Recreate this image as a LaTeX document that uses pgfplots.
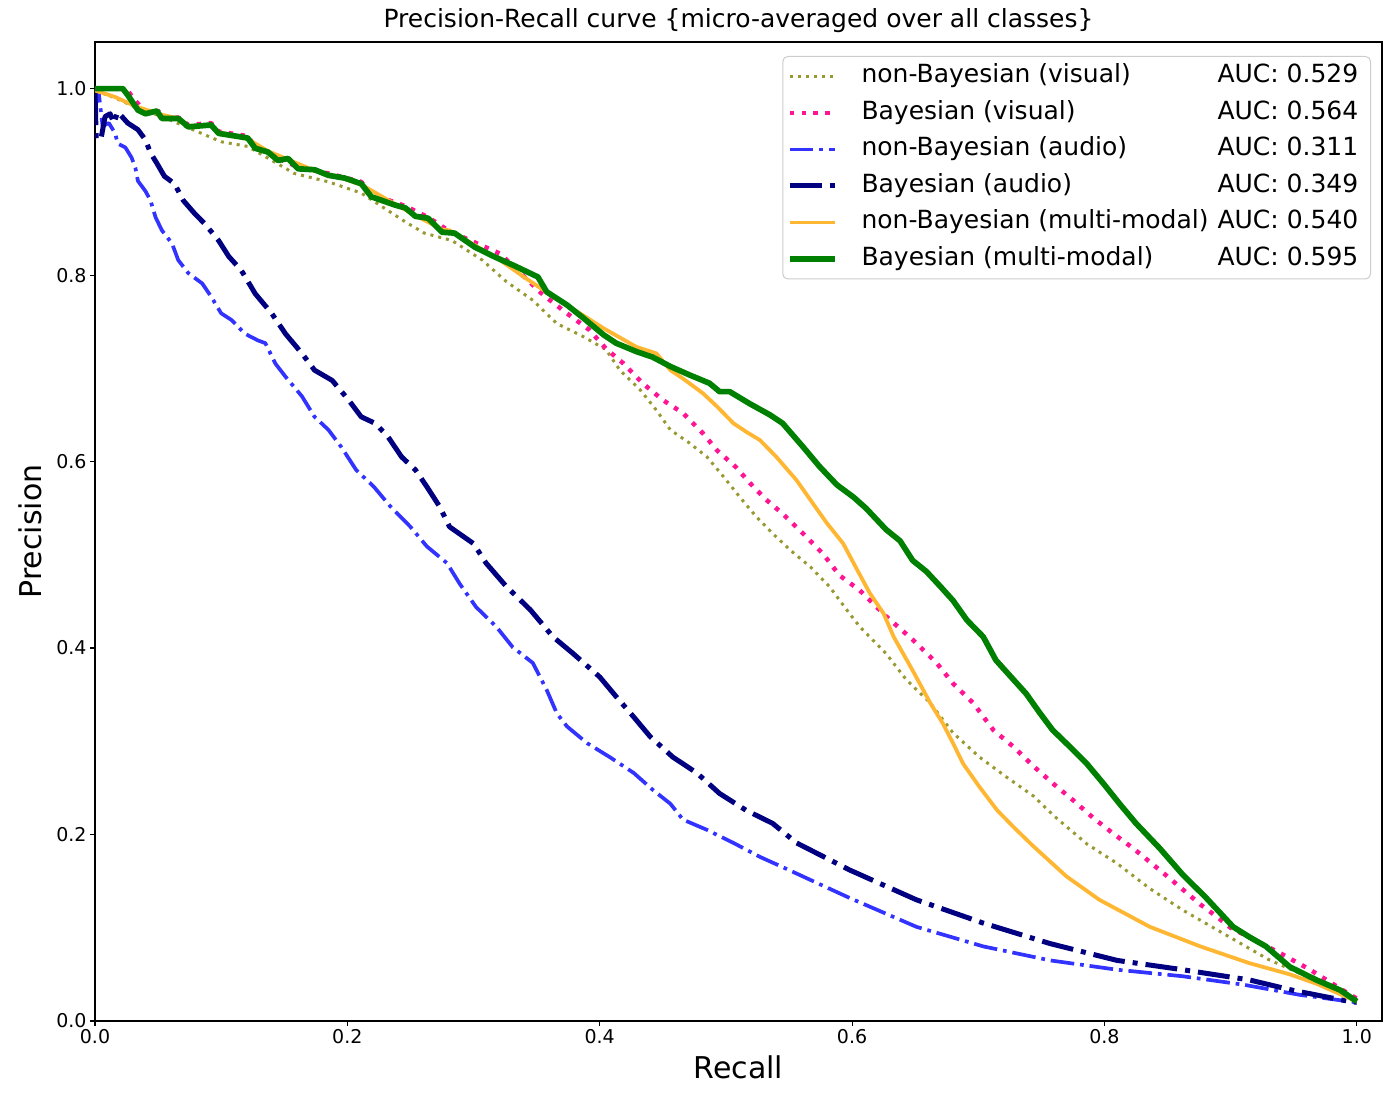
\documentclass[border=0pt]{standalone}
\usepackage{fontspec}
\setmainfont{DejaVu Sans}
\usepackage{pgfplots}
\pgfplotsset{compat=1.18}
\definecolor{cOlive}{RGB}{153,153,51}
\definecolor{cPink}{RGB}{255,20,147}
\definecolor{cBlue}{RGB}{51,51,255}
\definecolor{cNavy}{RGB}{0,0,128}
\definecolor{cOrange}{RGB}{255,183,51}
\definecolor{cGreen}{RGB}{0,128,0}
\begin{document}
\begin{tikzpicture}
\begin{axis}[
  scale only axis, width=1287bp, height=979bp,
  xmin=0, xmax=1.02, ymin=0, ymax=1.05,
  xtick={0,0.2,0.4,0.6,0.8,1}, ytick={0,0.2,0.4,0.6,0.8,1},
  xtick pos=bottom, ytick pos=left, tick align=outside,
  major tick length=5bp,
  every tick/.style={black, line width=1.1bp},
  axis line style={line width=1.1bp},
  /pgf/number format/.cd, fixed, fixed zerofill, precision=1, assume math mode=true, /pgfplots/.cd,
  ticklabel style={font=\fontsize{19bp}{22bp}\selectfont},
  title={Precision-Recall curve \{micro-averaged over all classes\}},
  title style={at={(axis description cs:0.5,1.0085)}, anchor=base, font=\fontsize{25bp}{30bp}\selectfont},
  xlabel={Recall}, ylabel={Precision},
  xlabel style={at={(axis description cs:0.5,-0.0592)}, anchor=base, font=\fontsize{30bp}{36bp}\selectfont},
  ylabel style={at={(axis description cs:-0.0412,0.5)}, anchor=base, rotate=0, font=\fontsize{30bp}{36bp}\selectfont},
  legend cell align=left,
  legend style={at={(axis description cs:1,1)}, anchor=north east, xshift=-11bp, yshift=-14bp,
    draw=black!20, rounded corners=5bp, fill=white, fill opacity=0.8, text opacity=1, line width=1bp,
    font=\fontsize{25bp}{30bp}\selectfont, inner xsep=4bp, inner ysep=8bp, row sep=12.5bp,
    nodes={inner sep=0pt, text height=18.5bp, text depth=5.5bp}},
  legend image code/.code={\draw[mark repeat=2,mark phase=2] plot coordinates {(0bp,0bp) (22.5bp,0bp) (45bp,0bp)}; \path (69bp,0bp);},
  every axis plot/.append style={line join=round},
]
% non-Bayesian (visual)
\addplot[cOlive, line width=3bp, dash pattern=on 3bp off 5bp] coordinates {
(0,0.998)(0.016,0.990)(0.032,0.980)(0.053,0.970)(0.074,0.958)(0.100,0.943)(0.121,0.938)(0.158,0.909)(0.185,0.900)(0.211,0.888)(0.246,0.857)(0.261,0.845)(0.283,0.837)(0.307,0.816)(0.326,0.793)(0.347,0.773)(0.366,0.748)(0.387,0.734)(0.405,0.720)(0.416,0.698)(0.432,0.677)(0.445,0.655)(0.456,0.634)(0.471,0.620)(0.485,0.605)(0.498,0.584)(0.511,0.562)(0.524,0.541)(0.537,0.523)(0.551,0.505)(0.567,0.487)(0.582,0.466)(0.598,0.437)(0.606,0.423)(0.627,0.394)(0.643,0.366)(0.662,0.341)(0.680,0.309)(0.701,0.283)(0.722,0.262)(0.744,0.241)(0.760,0.220)(0.786,0.190)(0.810,0.169)(0.836,0.142)(0.862,0.119)(0.889,0.098)(0.912,0.080)(0.930,0.066)(0.955,0.051)(0.987,0.033)(1.0,0.021)
};
\addlegendentry{\makebox[356bp][l]{non-Bayesian (visual)}\makebox[149bp][l]{AUC: 0.529}}
% Bayesian (visual)
\addplot[cPink, line width=4.5bp, dash pattern=on 4.5bp off 7.4bp] coordinates {
(0,1.0)(0.025,1.0)(0.030,0.990)(0.040,0.975)(0.050,0.976)(0.055,0.968)(0.066,0.969)(0.074,0.961)(0.092,0.963)(0.098,0.954)(0.121,0.949)(0.127,0.938)(0.145,0.925)(0.161,0.916)(0.185,0.909)(0.211,0.900)(0.219,0.887)(0.246,0.874)(0.264,0.862)(0.281,0.847)(0.321,0.823)(0.355,0.779)(0.374,0.759)(0.392,0.741)(0.405,0.721)(0.419,0.705)(0.434,0.684)(0.450,0.666)(0.466,0.652)(0.482,0.630)(0.493,0.612)(0.508,0.594)(0.519,0.577)(0.532,0.559)(0.545,0.544)(0.561,0.523)(0.577,0.501)(0.590,0.478)(0.606,0.462)(0.627,0.434)(0.648,0.409)(0.667,0.384)(0.680,0.362)(0.696,0.341)(0.712,0.312)(0.728,0.294)(0.744,0.273)(0.759,0.255)(0.775,0.237)(0.791,0.218)(0.807,0.201)(0.823,0.185)(0.850,0.155)(0.876,0.125)(0.889,0.112)(0.900,0.100)(0.939,0.073)(0.963,0.055)(0.989,0.033)(1.0,0.024)
};
\addlegendentry{\makebox[356bp][l]{Bayesian (visual)}\makebox[149bp][l]{AUC: 0.564}}
% non-Bayesian (audio)
\addplot[cBlue, line width=3.7bp, dash pattern=on 23.7bp off 5.9bp on 3.7bp off 5.9bp] coordinates {
(0,0.980)(0.003,0.995)(0.006,0.960)(0.011,0.963)(0.016,0.952)(0.018,0.941)(0.024,0.937)(0.029,0.926)(0.032,0.915)(0.034,0.901)(0.040,0.890)(0.044,0.880)(0.048,0.862)(0.053,0.848)(0.061,0.834)(0.066,0.816)(0.074,0.802)(0.085,0.791)(0.092,0.777)(0.100,0.759)(0.108,0.752)(0.119,0.737)(0.129,0.730)(0.135,0.727)(0.143,0.705)(0.151,0.691)(0.164,0.670)(0.174,0.648)(0.185,0.634)(0.195,0.616)(0.207,0.591)(0.221,0.573)(0.234,0.552)(0.250,0.530)(0.263,0.509)(0.279,0.491)(0.289,0.469)(0.302,0.444)(0.318,0.423)(0.331,0.401)(0.347,0.384)(0.358,0.355)(0.366,0.330)(0.374,0.316)(0.390,0.298)(0.408,0.283)(0.427,0.266)(0.442,0.248)(0.456,0.233)(0.466,0.216)(0.485,0.205)(0.506,0.191)(0.527,0.176)(0.545,0.165)(0.598,0.132)(0.651,0.101)(0.704,0.080)(0.757,0.065)(0.810,0.055)(0.862,0.048)(0.910,0.039)(0.955,0.028)(0.994,0.021)(1.0,0.020)
};
\addlegendentry{\makebox[356bp][l]{non-Bayesian (audio)}\makebox[149bp][l]{AUC: 0.311}}
% Bayesian (audio)
\addplot[cNavy, line width=5bp, dash pattern=on 32bp off 8bp on 5bp off 8bp] coordinates {
(0,0.995)(0.001,0.945)(0.005,0.948)(0.008,0.970)(0.012,0.973)(0.015,0.963)(0.018,0.975)(0.026,0.963)(0.034,0.956)(0.040,0.945)(0.044,0.931)(0.049,0.920)(0.055,0.906)(0.063,0.898)(0.070,0.880)(0.079,0.866)(0.087,0.855)(0.098,0.837)(0.106,0.820)(0.116,0.805)(0.127,0.780)(0.140,0.759)(0.151,0.737)(0.164,0.716)(0.174,0.698)(0.188,0.687)(0.201,0.666)(0.211,0.648)(0.222,0.641)(0.232,0.627)(0.243,0.605)(0.254,0.591)(0.263,0.573)(0.273,0.552)(0.281,0.530)(0.300,0.512)(0.310,0.491)(0.326,0.466)(0.345,0.441)(0.363,0.412)(0.379,0.394)(0.400,0.369)(0.413,0.348)(0.427,0.326)(0.440,0.305)(0.458,0.283)(0.477,0.266)(0.495,0.244)(0.516,0.226)(0.537,0.212)(0.556,0.191)(0.598,0.162)(0.651,0.130)(0.704,0.105)(0.757,0.083)(0.810,0.065)(0.862,0.055)(0.915,0.044)(0.949,0.033)(0.994,0.021)(1.0,0.020)
};
\addlegendentry{\makebox[356bp][l]{Bayesian (audio)}\makebox[149bp][l]{AUC: 0.349}}
% non-Bayesian (multi-modal)
\addplot[cOrange, line width=3.8bp] coordinates {
(0,0.998)(0.016,0.991)(0.032,0.981)(0.053,0.972)(0.066,0.968)(0.074,0.960)(0.092,0.960)(0.098,0.953)(0.121,0.946)(0.137,0.933)(0.153,0.924)(0.174,0.912)(0.198,0.903)(0.211,0.897)(0.238,0.876)(0.254,0.864)(0.275,0.849)(0.281,0.848)(0.321,0.816)(0.342,0.796)(0.361,0.779)(0.382,0.761)(0.403,0.743)(0.429,0.723)(0.445,0.716)(0.456,0.698)(0.466,0.689)(0.482,0.673)(0.493,0.659)(0.506,0.641)(0.516,0.632)(0.527,0.623)(0.540,0.605)(0.556,0.580)(0.569,0.555)(0.580,0.534)(0.593,0.512)(0.604,0.484)(0.614,0.459)(0.625,0.437)(0.633,0.412)(0.648,0.376)(0.662,0.341)(0.672,0.319)(0.680,0.298)(0.688,0.276)(0.701,0.251)(0.715,0.226)(0.728,0.208)(0.744,0.187)(0.770,0.155)(0.796,0.130)(0.836,0.101)(0.876,0.080)(0.915,0.062)(0.947,0.050)(0.968,0.040)(1.0,0.021)
};
\addlegendentry{\makebox[356bp][l]{non-Bayesian (multi-modal)}\makebox[149bp][l]{AUC: 0.540}}
% Bayesian (multi-modal)
\addplot[cGreen, line width=5.7bp] coordinates {
(0,1.0)(0.022,1.0)(0.026,0.993)(0.034,0.977)(0.040,0.973)(0.049,0.976)(0.053,0.968)(0.066,0.968)(0.074,0.959)(0.092,0.961)(0.098,0.952)(0.121,0.947)(0.127,0.936)(0.137,0.932)(0.145,0.923)(0.153,0.925)(0.161,0.914)(0.174,0.913)(0.185,0.907)(0.198,0.904)(0.211,0.898)(0.219,0.884)(0.238,0.875)(0.246,0.872)(0.254,0.863)(0.264,0.861)(0.275,0.846)(0.285,0.845)(0.301,0.830)(0.316,0.820)(0.334,0.809)(0.351,0.798)(0.358,0.782)(0.374,0.768)(0.387,0.754)(0.403,0.736)(0.413,0.727)(0.429,0.718)(0.442,0.712)(0.456,0.702)(0.471,0.693)(0.487,0.684)(0.495,0.675)(0.503,0.675)(0.519,0.662)(0.535,0.650)(0.545,0.641)(0.561,0.616)(0.574,0.595)(0.588,0.575)(0.601,0.562)(0.611,0.550)(0.627,0.527)(0.638,0.515)(0.648,0.494)(0.659,0.482)(0.670,0.466)(0.680,0.451)(0.691,0.430)(0.704,0.412)(0.714,0.387)(0.728,0.366)(0.738,0.351)(0.749,0.330)(0.759,0.312)(0.775,0.291)(0.786,0.276)(0.799,0.255)(0.812,0.233)(0.825,0.212)(0.844,0.185)(0.862,0.157)(0.880,0.133)(0.902,0.101)(0.915,0.090)(0.928,0.080)(0.947,0.058)(0.968,0.044)(0.987,0.033)(1.0,0.021)
};
\addlegendentry{\makebox[356bp][l]{Bayesian (multi-modal)}\makebox[149bp][l]{AUC: 0.595}}
\end{axis}
\pgfresetboundingbox
\useasboundingbox (-95bp,-79bp) rectangle (1305bp,1021bp);
\end{tikzpicture}
\end{document}
